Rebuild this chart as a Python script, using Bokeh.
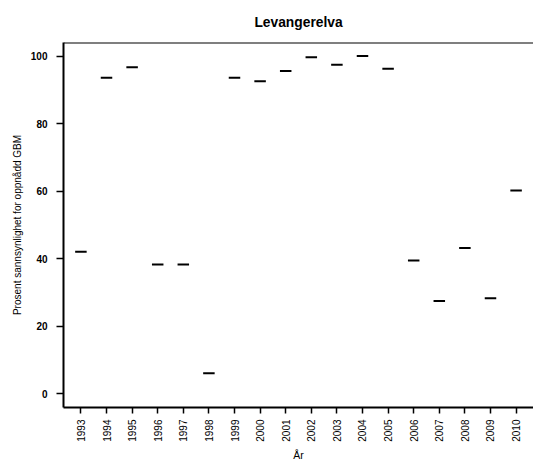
import math
from bokeh.plotting import figure
from bokeh.models import Range1d, FixedTicker, Span
from bokeh.embed import file_html
from bokeh.resources import INLINE

years = [1993, 1994, 1995, 1996, 1997, 1998, 1999, 2000, 2001,
         2002, 2003, 2004, 2005, 2006, 2007, 2008, 2009, 2010]
percent = [42.1, 93.6, 96.7, 38.3, 38.3, 6.1, 93.6, 92.5, 95.6,
           99.6, 97.4, 100.0, 96.2, 39.5, 27.5, 43.2, 28.3, 60.2]
y_ticks = [0, 20, 40, 60, 80, 100]

title_text = "Levangerelva"
x_label = "År"
y_label = "Prosent sannsynlighet for oppnådd GBM"

FONT = "Liberation Sans"

xpad = 0.04 * (max(years) - min(years))
p = figure(width=533, height=464, output_backend="svg", toolbar_location=None,
           x_range=Range1d(min(years) - xpad, max(years) + xpad),
           y_range=Range1d(-4, 104),
           min_border_left=63, min_border_right=0,
           min_border_top=42, min_border_bottom=57,
           title=title_text)

p.title.text_font = FONT
p.title.text_font_size = "13.8px"
p.title.text_font_style = "bold"
p.title.align = "center"
p.title.standoff = 25
p.title.text_color = "#000000"

p.outline_line_color = None
p.grid.visible = False
p.background_fill_color = "white"
p.border_fill_color = "white"

top_line = Span(location=104, dimension="width", line_color="black", line_width=2)
p.add_layout(top_line)

p.scatter(years, percent, marker="dash", size=11.5, line_width=2, line_color="black")

# x axis
p.xaxis.ticker = FixedTicker(ticks=years)
p.xaxis.major_label_orientation = math.pi / 2
p.xaxis.major_label_text_font = FONT
p.xaxis.major_label_text_font_size = "10px"
p.xaxis.major_label_text_color = "#000000"
p.xaxis.major_label_standoff = 6
p.xaxis.major_tick_out = 6
p.xaxis.major_tick_in = 0
p.xaxis.minor_tick_line_color = None
p.xaxis.axis_line_width = 2
p.xaxis.axis_line_color = "black"
p.xaxis.major_tick_line_color = "black"
p.xaxis.major_tick_line_width = 1.5
p.xaxis.axis_label = x_label
p.xaxis.axis_label_text_font = FONT
p.xaxis.axis_label_text_font_size = "10.5px"
p.xaxis.axis_label_text_font_style = "normal"
p.xaxis.axis_label_text_color = "#000000"
p.xaxis.axis_label_standoff = 4

# y axis
p.yaxis.ticker = FixedTicker(ticks=y_ticks)
p.yaxis.major_label_text_font = FONT
p.yaxis.major_label_text_font_size = "10px"
p.yaxis.major_label_text_font_style = "bold"
p.yaxis.major_label_text_color = "#000000"
p.yaxis.major_label_standoff = 9
p.yaxis.major_tick_out = 7
p.yaxis.major_tick_in = 0
p.yaxis.minor_tick_line_color = None
p.yaxis.axis_line_width = 2
p.yaxis.axis_line_color = "black"
p.yaxis.major_tick_line_color = "black"
p.yaxis.major_tick_line_width = 1.5
p.yaxis.axis_label = y_label
p.yaxis.axis_label_text_font = FONT
p.yaxis.axis_label_text_font_size = "10px"
p.yaxis.axis_label_text_font_style = "normal"
p.yaxis.axis_label_text_color = "#000000"
p.yaxis.axis_label_standoff = 5

open("out.html", "w").write(file_html(p, INLINE))
